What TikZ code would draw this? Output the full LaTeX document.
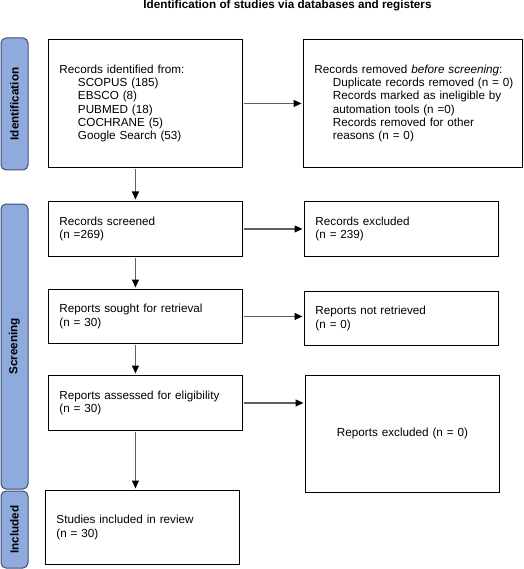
\documentclass[tikz,border=0pt]{standalone}
\usepackage{fontspec}
\setmainfont{Liberation Sans}
\usetikzlibrary{arrows.meta}
\definecolor{phasefill}{RGB}{143,170,220}
\definecolor{phaseline}{RGB}{62,80,116}
\definecolor{flowgray}{RGB}{95,95,95}
\newcommand{\ind}[1]{\mbox{\hspace*{18.5pt}#1}}

\begin{document}
\begin{tikzpicture}[x=1pt,y=1pt,yscale=-1,xscale=1,
    every node/.style={font=\fontsize{11.7}{13.3}\selectfont},
    box/.style={draw, line width=0.9pt, anchor=north west, inner xsep=11pt, inner ysep=0pt, align=left},
    phase/.style={draw=phaseline, fill=phasefill, line width=1pt, rounded corners=5pt, rotate=90, minimum height=27pt, inner sep=0pt, font=\fontsize{11.7}{13.3}\selectfont\bfseries},
    flow/.style={draw=flowgray, line width=1.1pt, -{Triangle[length=8pt,width=7pt,color=black]}, shorten <=1.5pt, shorten >=1.5pt}]
    \useasboundingbox (0,0) rectangle (523,569);
    % title
    \node [anchor=base, font=\fontsize{11.7}{13.3}\selectfont\bfseries] (title) at (287.5,8.5) {Identification of studies via databases and registers};
    % phase bars
    \node [phase, minimum width=132pt] (idphase) at (14.5,104) {Identification};
    \node [phase, minimum width=285pt] (scphase) at (14.5,346.5) {Screening};
    \node [phase, minimum width=77pt] (inphase) at (14.5,529.5) {Included};
    % boxes
    \node [box, text width=172pt, minimum height=128pt] (ident) at (48,39) {Records identified from:\\ \ind{SCOPUS (185)}\\ \ind{EBSCO (8)}\\ \ind{PUBMED (18)}\\ \ind{COCHRANE (5)}\\ \ind{Google Search (53)}};
    \node [box, text width=197pt, minimum height=128pt] (removed) at (303,39) {Records removed \textit{before screening}:\\ \ind{Duplicate records removed (n = 0)}\\ \ind{Records marked as ineligible by}\\ \ind{automation tools (n =0)}\\ \ind{Records removed for other}\\ \ind{reasons (n = 0)}};
    \node [box, text width=172pt, minimum height=55pt] (screened) at (48,201) {Records screened\\(n =269)};
    \node [box, text width=172pt, minimum height=55pt] (excluded) at (304,201) {Records excluded\\(n = 239)};
    \node [box, text width=172pt, minimum height=54pt] (sought) at (48,289) {Reports sought for retrieval\\(n = 30)};
    \node [box, text width=172pt, minimum height=54pt] (notretr) at (304,291) {Reports not retrieved\\(n = 0)};
    \node [box, text width=172pt, minimum height=55pt] (assessed) at (48,375) {Reports assessed for eligibility\\(n = 30)};
    \node [box, text width=172pt, minimum height=117pt, align=center] (repexcl) at (305,375) {Reports excluded (n = 0)};
    \node [box, text width=172pt, minimum height=74pt] (included) at (45,490) {Studies included in review\\(n = 30)};
    % arrows
    \draw [flow] (ident.east) -- (removed.west);
    \draw [flow] (screened.east) -- (excluded.west);
    \draw [flow] (sought.east) -- (sought.east -| notretr.west);
    \draw [flow] (assessed.east) -- (assessed.east -| repexcl.west);
    \draw [flow] ([xshift=-10pt]ident.south) -- ([xshift=-10pt]ident.south |- screened.north);
    \draw [flow] ([xshift=-10pt]screened.south) -- ([xshift=-10pt]screened.south |- sought.north);
    \draw [flow] ([xshift=-10pt]sought.south) -- ([xshift=-10pt]sought.south |- assessed.north);
    \draw [flow] ([xshift=-10pt]assessed.south) -- ([xshift=-10pt]assessed.south |- included.north);
\end{tikzpicture}
\end{document}
